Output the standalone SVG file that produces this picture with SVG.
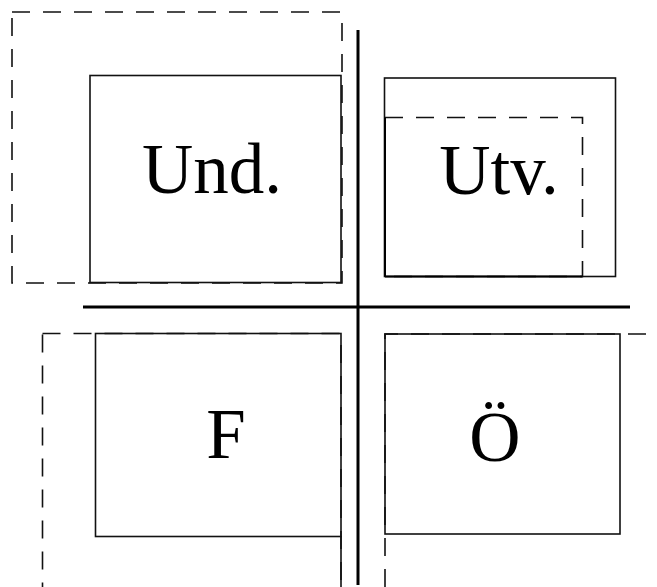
<svg xmlns="http://www.w3.org/2000/svg" width="657" height="587" viewBox="0 0 657 587">
<style>
.box{fill:none;stroke:#111;stroke-width:1.6}
.dash{fill:none;stroke:#111;stroke-width:1.6;stroke-dasharray:18 13}
.axis{stroke:#000;stroke-width:3}
.lbl{font-family:"Liberation Serif","Times New Roman",serif;font-size:71px;fill:#000;text-anchor:middle}
</style>
<rect width="657" height="587" fill="#fff"/>
<g id="und">
<rect class="dash" x="12" y="12" width="330" height="271"/>
<rect class="box" x="90" y="75.5" width="251" height="207"/>
<text class="lbl" x="212" y="193">Und.</text>
</g>
<g id="utv">
<rect class="box" x="384.5" y="78" width="231" height="198.5"/>
<rect class="dash" x="385" y="117.5" width="197.5" height="159"/>
<line x1="385" y1="117.5" x2="385" y2="276.5" stroke="#000" stroke-width="2"/>
<line x1="385" y1="276.5" x2="582.5" y2="276.5" stroke="#000" stroke-width="2"/>
<text class="lbl" x="499" y="194">Utv.</text>
</g>
<g id="f">
<rect class="dash" x="42.5" y="333.5" width="298.5" height="300"/>
<rect class="box" x="95.5" y="333.5" width="245.5" height="203"/>
<line x1="341" y1="536" x2="341" y2="587" stroke="#111" stroke-width="1.6"/>
<text class="lbl" x="226" y="458">F</text>
</g>
<g id="o">
<path class="dash" d="M385 587 V334 H657"/>
<rect class="box" x="385" y="334" width="235" height="200"/>
<text class="lbl" x="495" y="461">Ö</text>
</g>
<g id="connectors">
<line class="axis" x1="358" y1="30" x2="358" y2="585"/>
<line class="axis" x1="83" y1="307" x2="630" y2="307"/>
</g>
</svg>
